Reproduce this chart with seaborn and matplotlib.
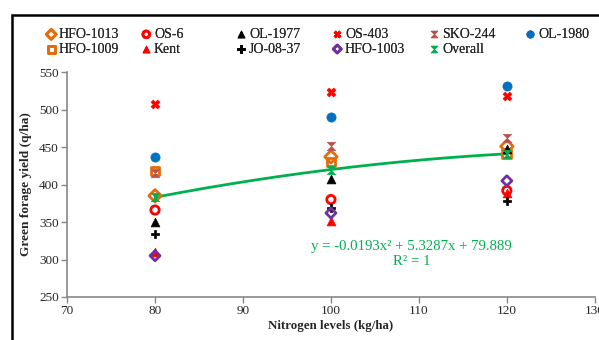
import numpy as np
import matplotlib
matplotlib.use("Agg")
import matplotlib.pyplot as plt
from matplotlib.path import Path
from matplotlib.patches import Rectangle
import seaborn as sns
import pandas as pd

# ---- data ----
nitrogen = [80, 100, 120]
series_names = ["HFO-1013", "HFO-1009", "OS-6", "Kent", "OL-1977", "JO-08-37",
                "OS-403", "HFO-1003", "SKO-244", "Overall", "OL-1980"]
hfo_1013 = [385, 437, 451]
hfo_1009 = [418, 430, 441]
os_6 = [366, 380, 392]
kent = [310, 351, 389]
ol_1977 = [350, 407, 448]
jo_08_37 = [334, 369, 378]
os_403 = [507, 523, 518]
hfo_1003 = [305, 362, 405]
sko_244 = [416, 451, 462]
overall = [383, 420, 441]
ol_1980 = [437, 490, 532]
equation_text = "y = -0.0193x\u00b2 + 5.3287x + 79.889"
r2_text = "R\u00b2 = 1"

values = [hfo_1013, hfo_1009, os_6, kent, ol_1977, jo_08_37,
          os_403, hfo_1003, sko_244, overall, ol_1980]

hourglass = Path([(-1, 1), (1, 1), (-1, -1), (1, -1), (-1, 1)],
                 [Path.MOVETO, Path.LINETO, Path.LINETO, Path.LINETO, Path.CLOSEPOLY])

styles = {
    "HFO-1013": dict(marker="D", color="#E46C0A", open=True, s=40),
    "HFO-1009": dict(marker="s", color="#E46C0A", open=True, s=40),
    "OS-6": dict(marker="o", color="#FF0000", open=True, s=36),
    "Kent": dict(marker="^", color="#FF0000", open=False, s=40),
    "OL-1977": dict(marker="^", color="#000000", open=False, s=40),
    "JO-08-37": dict(marker="P", color="#000000", open=False, s=40),
    "OS-403": dict(marker="X", color="#FF0000", open=False, s=40),
    "HFO-1003": dict(marker="D", color="#7030A0", open=True, s=26),
    "SKO-244": dict(marker=hourglass, color="#C0504D", open=False, s=36),
    "Overall": dict(marker=hourglass, color="#00B050", open=False, s=36),
    "OL-1980": dict(marker="o", color="#0070C0", open=False, s=44),
}

sns.set_theme(style="white")
plt.rcParams["font.family"] = ["Liberation Serif", "DejaVu Serif"]

W, H = 599, 340
fig = plt.figure(figsize=(W / 100, H / 100), dpi=100)
ax = fig.add_axes([0.112, 0.1265, 0.881, 0.6615])

for name, vals in zip(series_names, values):
    st = styles[name]
    df = pd.DataFrame({"x": nitrogen, "y": vals})
    kw = dict(marker=st["marker"], s=st["s"], color=st["color"], zorder=3)
    if st["open"]:
        kw.update(facecolor="none", edgecolor=st["color"], linewidth=2)
    else:
        kw.update(edgecolor=st["color"], linewidth=0.5)
    sns.scatterplot(data=df, x="x", y="y", ax=ax, label=name, legend=False, **kw)

h, l = ax.get_legend_handles_labels()

# polynomial trendline on overall
coef = np.polyfit(nitrogen, overall, 2)
xs = np.linspace(min(nitrogen), max(nitrogen), 200)
sns.lineplot(x=xs, y=np.polyval(coef, xs), ax=ax, color="#00B050", linewidth=2,
             zorder=2, legend=False)
if ax.get_legend() is not None:
    ax.get_legend().remove()

ax.text(109.2, 317, equation_text, color="#00B050", ha="center", va="center", fontsize=10.6)
ax.text(109.2, 297, r2_text, color="#00B050", ha="center", va="center", fontsize=10.6)

ax.set_xlim(70, 130)
ax.set_ylim(250, 550)
ax.set_xticks(range(70, 131, 10))
ax.set_yticks(range(250, 551, 50))
ax.set_xlabel("Nitrogen levels (kg/ha)", fontsize=9.3, fontweight="bold", labelpad=2)
ax.set_ylabel("Green forage yield (q/ha)", fontsize=9.6, fontweight="bold", labelpad=5)
for sp in ["top", "right"]:
    ax.spines[sp].set_visible(False)
for sp in ["left", "bottom"]:
    ax.spines[sp].set_color("#888888")
    ax.spines[sp].set_linewidth(1.2)
ax.tick_params(axis="both", direction="out", length=4, width=1, color="#888888",
               labelsize=9.5, pad=2, bottom=True, left=True)

# legend: six evenly spaced columns, two rows
col_x = [51, 146, 241, 337, 434, 530]
for i, cx in enumerate(col_x):
    hh = h[2 * i:2 * i + 2]
    ll = l[2 * i:2 * i + 2]
    leg = fig.legend(hh, ll, loc="upper left",
                     bbox_to_anchor=((cx - 6) / W, 1 - 28 / H),
                     frameon=False, fontsize=10, handletextpad=0.1,
                     labelspacing=0.12, handlelength=0.9, markerscale=0.8,
                     borderpad=0, borderaxespad=0)
    fig.add_artist(leg)

fig.patches.append(Rectangle((12 / W, -0.1), 1.2, 0.1 + (H - 15) / H, fill=False,
                             edgecolor="black", linewidth=1.8, transform=fig.transFigure))

fig.savefig("out.png", dpi=100)
